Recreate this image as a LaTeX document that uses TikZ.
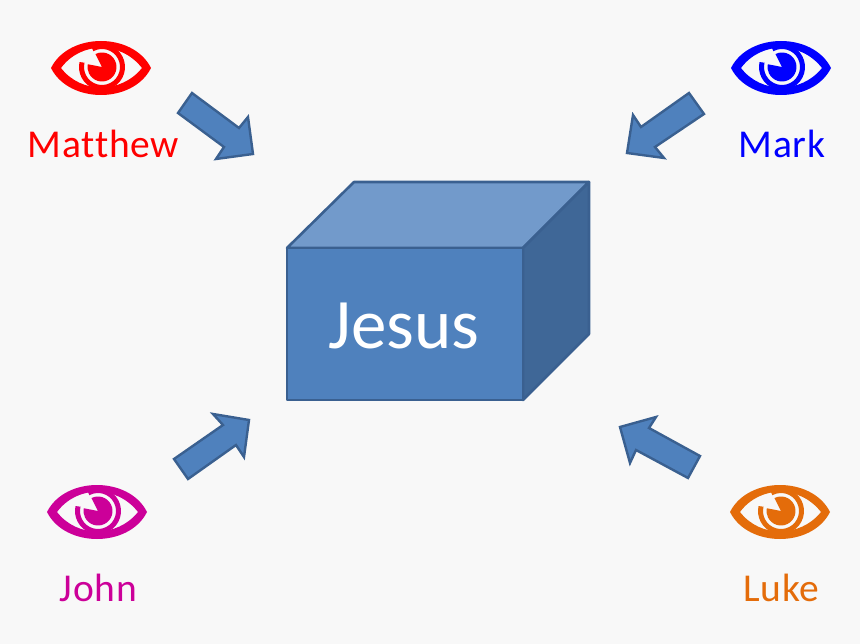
\documentclass[tikz,border=0pt]{standalone}
\usepackage{fontspec}
\setmainfont[Ligatures=NoCommon,LetterSpace=2]{Carlito}
\newfontfamily\jesusfont[Ligatures=NoCommon]{Carlito}
\definecolor{bgc}{HTML}{F8F8F8}
\definecolor{boxf}{HTML}{4F81BD}
\definecolor{boxt}{HTML}{729ACB}
\definecolor{boxs}{HTML}{3F6797}
\definecolor{boxe}{HTML}{3A6090}
\definecolor{cmat}{HTML}{FF0000}
\definecolor{cmar}{HTML}{0000FF}
\definecolor{cjoh}{HTML}{CC0099}
\definecolor{cluk}{HTML}{E46C0A}
\tikzset{
  fatarrow/.style={fill=boxf,draw=boxe,line width=2.4pt,line join=miter},
  boxface/.style={draw=boxe,line width=2.6pt,line join=round},
  who/.style={font=\fontsize{39.5}{40}\selectfont,inner sep=0pt,anchor=base},
  pics/eye/.style={code={
    \fill[#1,even odd rule]
      (-50,0) .. controls (-32,-36) and (32,-36) .. (50,0)
      .. controls (32,36) and (-32,36) .. (-50,0) -- cycle
      (-40,0) .. controls (-20,-27) and (20,-27) .. (41,0)
      .. controls (20,26) and (-20,26) .. (-40,0) -- cycle;
    \draw[#1,line width=5pt] ({1+20.5*cos(-118)},{-1+20.5*sin(-118)}) arc[start angle=-118,end angle=193,radius=20.5];
    \fill[#1] (1,-1) -- ({1+14.5*cos(-117)},{-1+14.5*sin(-117)}) arc[start angle=-117,end angle=191,radius=14.5] -- cycle;
  }}
}
\begin{document}
\begin{tikzpicture}[x=1pt,y=-1pt]
\useasboundingbox (0,0) rectangle (860,644);
\fill[bgc] (0,0) rectangle (860,644);
% box
\coordinate (ftl) at (287,248);\coordinate (ftr) at (523,248);
\coordinate (fbr) at (523,400);\coordinate (fbl) at (287,400);
\coordinate (btl) at (354,182);\coordinate (btr) at (589,182);
\coordinate (bbr) at (589,334);
\draw[boxface,fill=boxt] (ftl)--(btl)--(btr)--(ftr)--cycle;
\draw[boxface,fill=boxs] (ftr)--(btr)--(bbr)--(fbr)--cycle;
\draw[boxface,fill=boxf] (ftl)--(ftr)--(fbr)--(fbl)--cycle;
\node[white,inner sep=0pt,anchor=base,font=\jesusfont\fontsize{71}{71}\selectfont] (jesus) at (404,349) {Jesus};
% arrows
\draw[fatarrow] (192,93)--(178,113)--(224,147)--(216,159)--(253,154)--(248,117)--(239,128)--cycle;
\draw[fatarrow] (689,93)--(704,114)--(655,147)--(664,158)--(627,153)--(633,115)--(641,127)--cycle;
\draw[fatarrow] (174,459)--(188,479)--(236,445)--(244,457)--(249,420)--(213,414)--(223,425)--cycle;
\draw[fatarrow] (700,456)--(688,478)--(636,450)--(630,463)--(620,427)--(656,417)--(649,428)--cycle;
% eyes
\pic at (101,68) {eye=cmat};
\pic at (781,68) {eye=cmar};
\pic at (97,512) {eye=cjoh};
\pic at (780,512) {eye=cluk};
% labels
\node[who,text=cmat] (matthew) at (103.5,158) {Matthew};
\node[who,text=cmar] (mark) at (782,158) {Mark};
\node[who,text=cjoh] (john) at (98.5,601) {John};
\node[who,text=cluk] (luke) at (781.5,601) {Luke};
\end{tikzpicture}
\end{document}
